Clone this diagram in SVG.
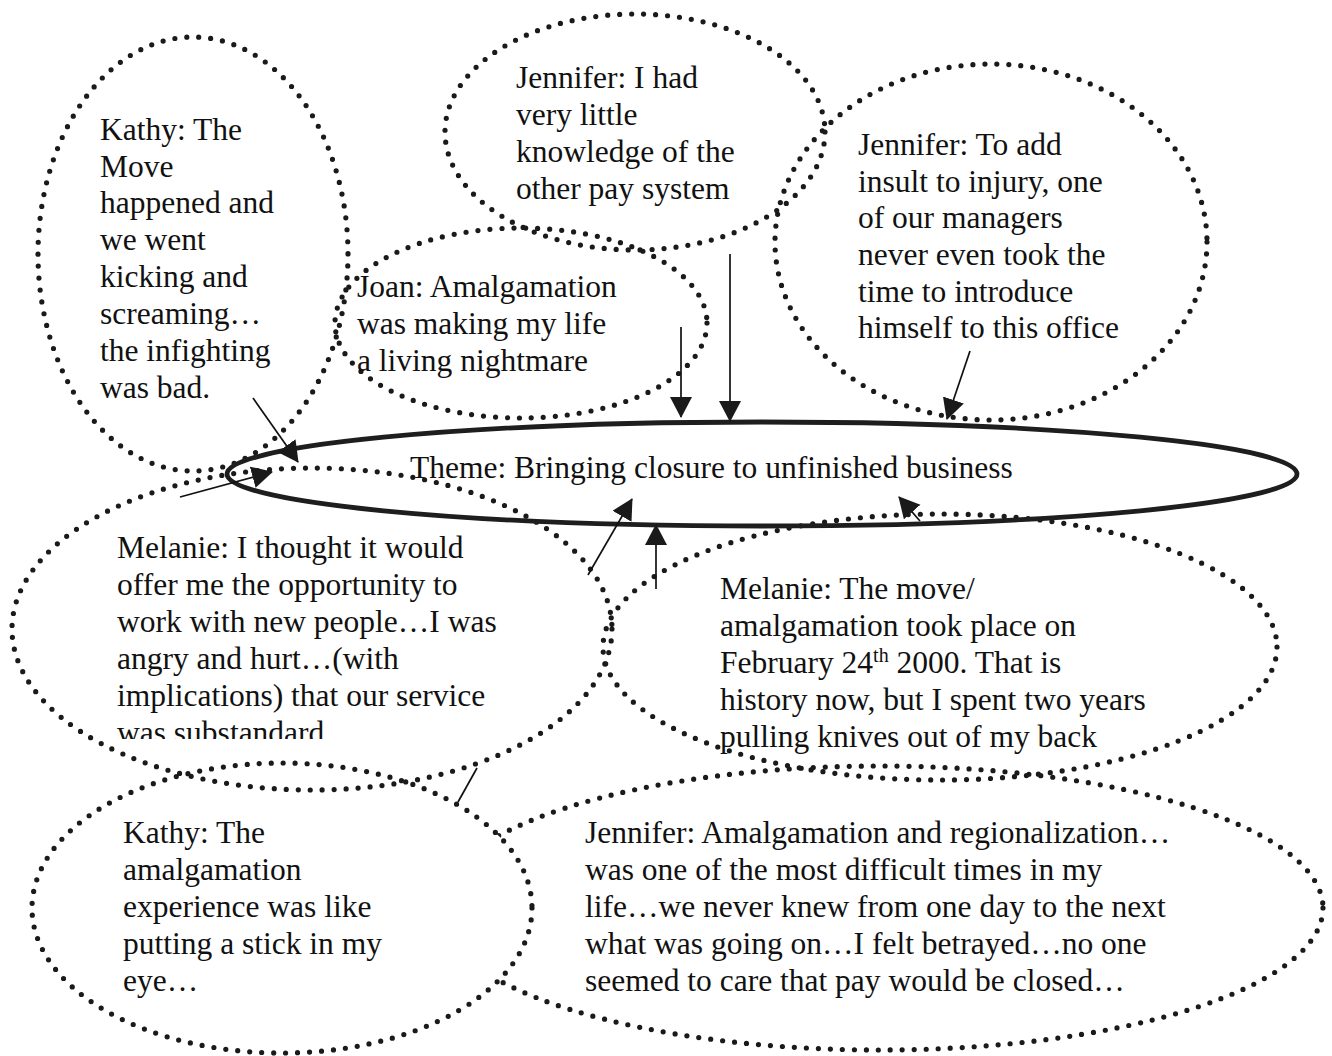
<svg xmlns="http://www.w3.org/2000/svg" width="1332" height="1056" viewBox="0 0 1332 1056">
  <style>
    .bubble { fill: none; stroke: #1a1a1a; stroke-width: 5.2; stroke-dasharray: 0 12; stroke-linecap: round; }
    .bubble-fill { fill: #ffffff; stroke: #1a1a1a; stroke-width: 5.2; stroke-dasharray: 0 12; stroke-linecap: round; }
    .theme { fill: none; stroke: #1e1e1e; stroke-width: 4.8; }
    .txt { font-family: "Liberation Serif", "Times New Roman", serif; font-size: 31.5px; fill: #111; }
    .conn { stroke: #111; stroke-width: 1.7; fill: none; }
  </style>
  <defs>
    <marker id="head" markerUnits="userSpaceOnUse" markerWidth="24" markerHeight="24" refX="20" refY="11" orient="auto">
      <path d="M0,0 L21,11 L0,22 z" fill="#1a1a1a"/>
    </marker>
    <clipPath id="clipMelLeft">
      <rect x="0" y="440" width="620" height="299"/>
    </clipPath>
  </defs>

  <rect width="1332" height="1056" fill="#ffffff"/>

  <!-- Jennifer, bottom right -->
  <g id="node-jennifer-bottom">
    <ellipse class="bubble" cx="880" cy="908" rx="443" ry="142"/>
    <text class="txt">
      <tspan x="585" y="843">Jennifer: Amalgamation and regionalization…</tspan>
      <tspan x="585" y="880">was one of the most difficult times in my</tspan>
      <tspan x="585" y="917">life…we never knew from one day to the next</tspan>
      <tspan x="585" y="954">what was going on…I felt betrayed…no one</tspan>
      <tspan x="585" y="991">seemed to care that pay would be closed…</tspan>
    </text>
  </g>

  <!-- Kathy, bottom left -->
  <g id="node-kathy-bottom">
    <ellipse class="bubble-fill" cx="282" cy="908" rx="250" ry="145"/>
    <text class="txt">
      <tspan x="123" y="843">Kathy: The</tspan>
      <tspan x="123" y="880">amalgamation</tspan>
      <tspan x="123" y="917">experience was like</tspan>
      <tspan x="123" y="954">putting a stick in my</tspan>
      <tspan x="123" y="991">eye…</tspan>
    </text>
  </g>

  <!-- Kathy, top left -->
  <g id="node-kathy-top">
    <ellipse class="bubble" cx="193" cy="254" rx="155" ry="217"/>
    <text class="txt">
      <tspan x="100" y="140">Kathy: The</tspan>
      <tspan x="100" y="177">Move</tspan>
      <tspan x="100" y="213">happened and</tspan>
      <tspan x="100" y="250">we went</tspan>
      <tspan x="100" y="287">kicking and</tspan>
      <tspan x="100" y="324">screaming…</tspan>
      <tspan x="100" y="361">the infighting</tspan>
      <tspan x="100" y="398">was bad.</tspan>
    </text>
  </g>

  <!-- Jennifer, top centre -->
  <g id="node-jennifer-top">
    <ellipse class="bubble" cx="635" cy="132" rx="190" ry="118"/>
    <text class="txt">
      <tspan x="516" y="88">Jennifer: I had</tspan>
      <tspan x="516" y="125">very little</tspan>
      <tspan x="516" y="162">knowledge of the</tspan>
      <tspan x="516" y="199">other pay system</tspan>
    </text>
  </g>

  <!-- Joan -->
  <g id="node-joan">
    <ellipse class="bubble" cx="521" cy="323" rx="186" ry="95"/>
    <text class="txt">
      <tspan x="357" y="297">Joan: Amalgamation</tspan>
      <tspan x="357" y="334">was making my life</tspan>
      <tspan x="357" y="371">a living nightmare</tspan>
    </text>
  </g>

  <!-- Jennifer, top right -->
  <g id="node-jennifer-right">
    <ellipse class="bubble" cx="991" cy="242" rx="216" ry="178"/>
    <text class="txt">
      <tspan x="858" y="155">Jennifer: To add</tspan>
      <tspan x="858" y="192">insult to injury, one</tspan>
      <tspan x="858" y="228">of our managers</tspan>
      <tspan x="858" y="265">never even took the</tspan>
      <tspan x="858" y="302">time to introduce</tspan>
      <tspan x="858" y="338">himself to this office</tspan>
    </text>
  </g>

  <!-- Melanie, middle left -->
  <g id="node-melanie-left">
    <ellipse class="bubble" cx="312" cy="629" rx="300" ry="161"/>
    <text class="txt" clip-path="url(#clipMelLeft)">
      <tspan x="117" y="558">Melanie: I thought it would</tspan>
      <tspan x="117" y="595">offer me the opportunity to</tspan>
      <tspan x="117" y="632">work with new people…I was</tspan>
      <tspan x="117" y="669">angry and hurt…(with</tspan>
      <tspan x="117" y="706">implications) that our service</tspan>
      <tspan x="117" y="743">was substandard</tspan>
    </text>
  </g>

  <!-- Melanie, middle right -->
  <g id="node-melanie-right">
    <ellipse class="bubble" cx="940" cy="647" rx="337" ry="133"/>
    <text class="txt">
      <tspan x="720" y="599">Melanie: The move/</tspan>
      <tspan x="720" y="636">amalgamation took place on</tspan>
      <tspan x="720" y="673">February 24</tspan><tspan dy="-11" font-size="20">th</tspan><tspan dy="11"> 2000. That is</tspan>
      <tspan x="720" y="710">history now, but I spent two years</tspan>
      <tspan x="720" y="747">pulling knives out of my back</tspan>
    </text>
  </g>

  <!-- central theme -->
  <g id="node-theme">
    <ellipse class="theme" cx="762" cy="474" rx="535" ry="52"/>
    <text class="txt" x="410" y="478">Theme: Bringing closure to unfinished business</text>
  </g>

  <!-- connectors pointing at the theme -->
  <g id="connectors">
    <line class="conn" x1="253" y1="398" x2="298" y2="462" marker-end="url(#head)"/>
    <line class="conn" x1="180" y1="497" x2="272" y2="472" marker-end="url(#head)"/>
    <line class="conn" x1="681" y1="327" x2="681" y2="417" marker-end="url(#head)"/>
    <line class="conn" x1="730" y1="254" x2="730" y2="421" marker-end="url(#head)"/>
    <line class="conn" x1="970" y1="351" x2="947" y2="419" marker-end="url(#head)"/>
    <line class="conn" x1="588" y1="575" x2="632" y2="499" marker-end="url(#head)"/>
    <line class="conn" x1="656" y1="589" x2="656" y2="525" marker-end="url(#head)"/>
    <line class="conn" x1="920" y1="521" x2="899" y2="497" marker-end="url(#head)"/>
    <line class="conn" x1="477" y1="768" x2="458" y2="802"/>
  </g>
</svg>
